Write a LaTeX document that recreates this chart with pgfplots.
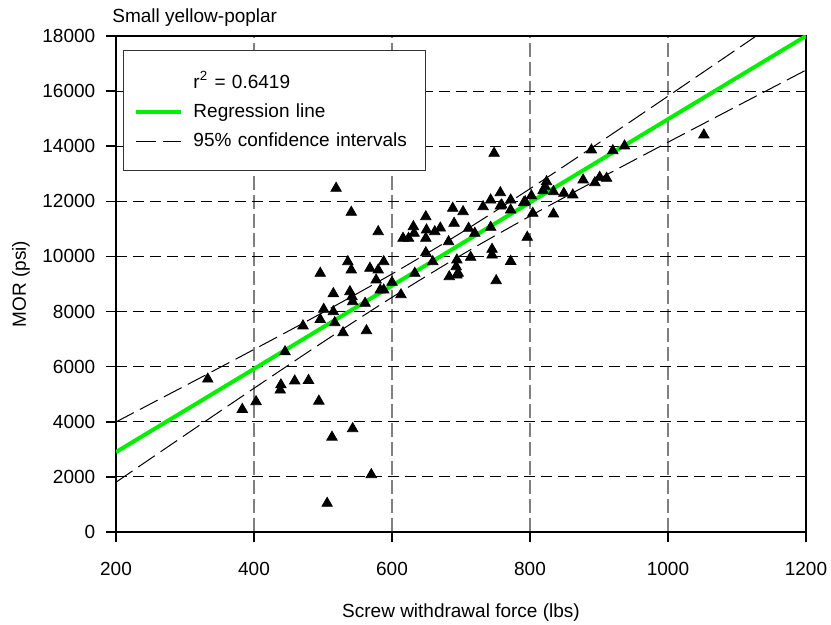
\documentclass[border=0pt]{standalone}
\usepackage{fontspec}
\setmainfont{Liberation Sans}
\usepackage{pgfplots}
\pgfplotsset{compat=1.18}
\usetikzlibrary{calc}
\definecolor{reggreen}{RGB}{0,240,0}
\begin{document}
\fontsize{9.5}{11}\selectfont
\begin{tikzpicture}
\begin{axis}[
  scale only axis, width=345pt, height=248pt,
  xmin=200, xmax=1200, ymin=0, ymax=18000,
  xtick={200,400,...,1200}, ytick={0,2000,...,18000},
  scaled ticks=false,
  /pgf/number format/1000 sep={},
  /pgf/number format/assume math mode=true,
  tick label style={font=\fontsize{9.5}{11}\selectfont},
  xticklabel style={yshift=-7pt},
  yticklabel style={xshift=-2pt},
  label style={font=\fontsize{9.5}{11}\selectfont},
  tick align=outside, tick pos=left,
  major tick length=5pt,
  every major tick/.append style={draw=black, solid, line width=0.8pt},
  axis line style={line width=1.3pt},
  grid=major,
  x grid style={gray, line width=1pt, dash pattern=on 7pt off 2.5pt},
  y grid style={black, line width=0.5pt, dash pattern=on 5.5pt off 3pt},
  title={Small yellow-poplar},
  every axis title/.style={at={(axis description cs:0,1)}, anchor=base west, xshift=-2pt, yshift=6.5pt, inner sep=0pt, font=\fontsize{9.5}{11}\selectfont},
  xlabel={Screw withdrawal force (lbs)},
  ylabel={MOR (psi)},
  xlabel style={at={(axis description cs:0.5,0)}, anchor=base, yshift=-43pt, inner sep=0pt},
  ylabel style={at={($(axis description cs:0,0.5)+(-47.5pt,0pt)$)}, anchor=center, inner sep=0pt},
  legend style={at={(axis description cs:0,1)}, anchor=north west, xshift=3.5pt, yshift=-7pt,
    draw=black!80, line width=0.5pt, fill=white, inner xsep=5.5pt, inner ysep=10.5pt, row sep=6.25pt,
    font=\fontsize{9.5}{11}\selectfont,
    nodes={inner sep=0pt},
    /tikz/every odd column/.append style={column sep=5pt},
    /tikz/every even column/.append style={text width=110.5pt}},
  legend cell align=left,
  legend image code/.code={\draw[#1] (0pt,0pt) -- (22.5pt,0pt);},
]
\addlegendimage{empty legend}
\addlegendentry{r\textsuperscript{2} = 0.6419}

\addplot[reggreen, line width=2pt] coordinates {(200,2900) (1200,18000)};
\addlegendentry{Regression line}

\addplot[black, line width=0.5pt, dash pattern=on 10pt off 3.5pt, smooth] coordinates {
(200,3994) (300,5304) (400,6625) (500,7969) (600,9365) (700,10857) (800,12457) (900,14122) (1000,15816) (1100,17524) (1200,19238)};
\addlegendentry{95\% confidence intervals}

\addplot[black, line width=0.5pt, dash pattern=on 10pt off 3.5pt, smooth, forget plot] coordinates {
(200,1806) (300,3516) (400,5215) (500,6891) (600,8515) (700,10043) (800,11463) (900,12818) (1000,14144) (1100,15456) (1200,16762)};

\addplot[only marks, mark=triangle*, mark size=3pt, black, forget plot] coordinates {
(333,5550) (383,4450) (403,4730) (438,5150) (439,5340) (445,6540) (459,5480) (479,5500)
(494,4750) (513,3440) (543,3750) (570,2080) (506,1040) (471,7480) (496,7710) (501,8080)
(515,7995) (517,7595) (529,7233) (563,7305) (543,8358) (561,8299) (519,12473) (541,11602)
(580,10898) (496,9388) (536,9809) (541,9508) (568,9570) (580,9508) (588,9809) (577,9145)
(515,8650) (539,8720) (542,8539) (583,8782) (588,8782) (600,9060) (613,8610) (633,9388)
(659,9809) (649,10136) (616,10658) (624,10658) (631,11080) (632,10840) (649,11442) (650,10960)
(649,10658) (662,10898) (670,11030) (682,10535) (688,11747) (690,11202) (694,9871) (693,9628)
(694,9326) (683,9265) (748,13743) (889,13863) (824,12713) (822,12531) (834,12350) (849,12291)
(862,12230) (877,12774) (894,12676) (757,12313) (743,12048) (732,11805) (759,11867) (772,12048)
(772,11685) (793,11986) (802,12200) (804,11566) (834,11540) (703,11624) (711,11021) (720,10840)
(743,11057) (796,10695) (745,10259) (745,10052) (714,9969) (696,9388) (772,9820) (751,9120)
(1052,14407) (920,13837) (937,14008) (901,12872) (911,12836) (819,12386) (791,11950) (757,11830)
};
\end{axis}
\pgfresetboundingbox
\path[use as bounding box] ([xshift=-58pt,yshift=-46.5pt]current axis.south west) rectangle ([xshift=12.5pt,yshift=18pt]current axis.north east);
\end{tikzpicture}
\end{document}
